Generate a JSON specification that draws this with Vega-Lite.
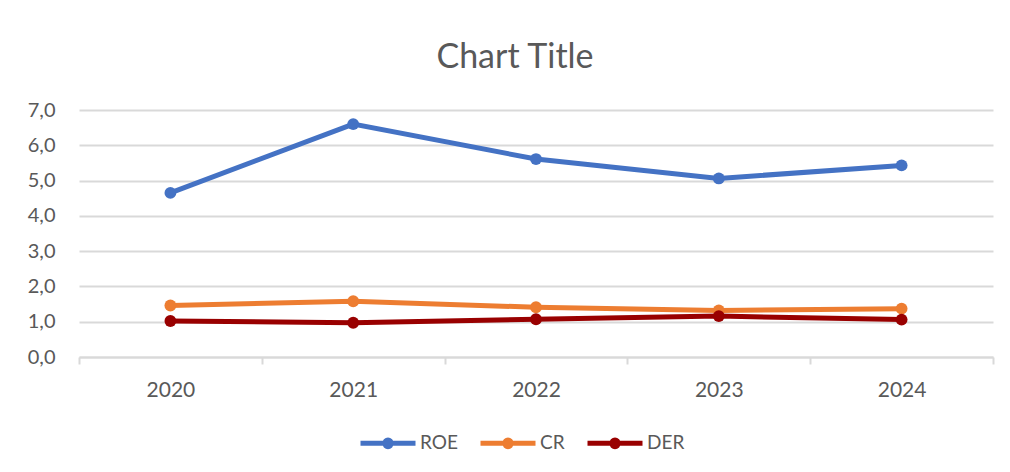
{
  "$schema": "https://vega.github.io/schema/vega-lite/v6.json",
  "width": 914,
  "height": 247,
  "autosize": {"type": "none"},
  "padding": {"left": 79, "top": 110, "right": 17, "bottom": 115},
  "background": "white",
  "title": {
    "text": "Chart Title",
    "font": "Lato",
    "fontSize": 34,
    "fontWeight": "normal",
    "color": "#595959",
    "anchor": "middle",
    "frame": "group",
    "dx": -21,
    "baseline": "alphabetic",
    "offset": -2
  },
  "data": {
    "values": [
      {"year": "2020", "series": "ROE", "value": 4.65},
      {"year": "2021", "series": "ROE", "value": 6.6},
      {"year": "2022", "series": "ROE", "value": 5.61},
      {"year": "2023", "series": "ROE", "value": 5.06},
      {"year": "2024", "series": "ROE", "value": 5.43},
      {"year": "2020", "series": "CR", "value": 1.46},
      {"year": "2021", "series": "CR", "value": 1.58},
      {"year": "2022", "series": "CR", "value": 1.41},
      {"year": "2023", "series": "CR", "value": 1.32},
      {"year": "2024", "series": "CR", "value": 1.37},
      {"year": "2020", "series": "DER", "value": 1.02},
      {"year": "2021", "series": "DER", "value": 0.97},
      {"year": "2022", "series": "DER", "value": 1.07},
      {"year": "2023", "series": "DER", "value": 1.16},
      {"year": "2024", "series": "DER", "value": 1.06}
    ]
  },
  "mark": {"type": "line", "strokeWidth": 5, "point": {"filled": true, "size": 140, "opacity": 1}},
  "encoding": {
    "x": {
      "field": "year",
      "type": "ordinal",
      "scale": {"type": "band", "paddingInner": 0, "paddingOuter": 0},
      "axis": {
        "title": null,
        "labelAngle": 0,
        "tickBand": "extent",
        "grid": false,
        "domainColor": "#d9d9d9",
        "domainWidth": 2,
        "tickColor": "#d9d9d9",
        "tickWidth": 2,
        "tickSize": 7,
        "labelPadding": 15,
        "labelBaseline": "top",
        "labelFont": "Lato",
        "labelFontSize": 21,
        "labelColor": "#595959"
      }
    },
    "y": {
      "field": "value",
      "type": "quantitative",
      "scale": {"domain": [0, 7], "nice": false},
      "axis": {
        "title": null,
        "values": [0, 1, 2, 3, 4, 5, 6, 7],
        "labelExpr": "replace(format(datum.value, '.1f'), '.', ',')",
        "domain": false,
        "ticks": false,
        "gridColor": "#d9d9d9",
        "gridWidth": 2,
        "labelPadding": 24,
        "labelFont": "Lato",
        "labelFontSize": 20,
        "labelColor": "#595959"
      }
    },
    "color": {
      "field": "series",
      "type": "nominal",
      "scale": {"domain": ["ROE", "CR", "DER"], "range": ["#4472C4", "#ED7D31", "#990000"]},
      "legend": {
        "title": null,
        "orient": "none",
        "legendX": 279,
        "legendY": 303,
        "direction": "horizontal",
        "symbolType": "M-1,0H1M-0.12,0A0.12,0.12,0,1,0,0.12,0A0.12,0.12,0,1,0,-0.12,0Z",
        "symbolSize": 3025,
        "symbolStrokeWidth": 5,
        "labelFont": "Lato",
        "labelFontSize": 19,
        "labelColor": "#595959",
        "labelOffset": 2,
        "columnPadding": 12
      }
    }
  },
  "config": {"view": {"stroke": null}}
}
